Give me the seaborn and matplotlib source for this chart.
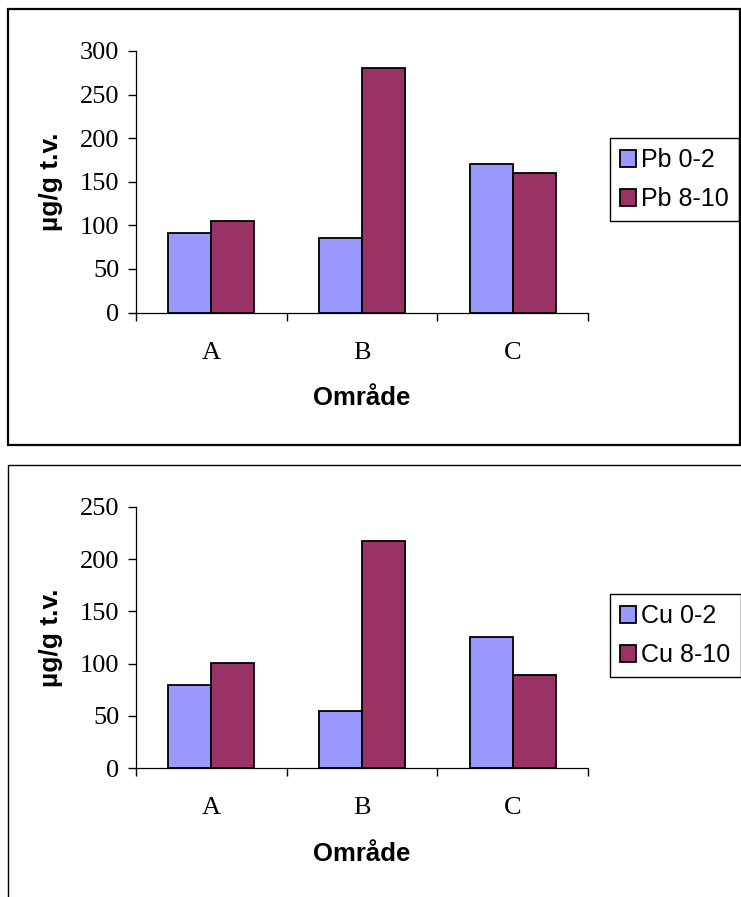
import pandas as pd
import matplotlib
matplotlib.use("Agg")
import matplotlib.pyplot as plt
from matplotlib.patches import Rectangle
import seaborn as sns

# data
omraden = ["A", "B", "C"]
pb_0_2 = [91, 85, 170]
pb_8_10 = [105, 280, 160]
cu_0_2 = [80, 55, 125]
cu_8_10 = [101, 217, 89]

farger = ["#9999FF", "#993366"]

sns.set_style("white")
plt.rcParams["font.family"] = ["Liberation Sans", "DejaVu Sans"]
plt.rcParams["text.color"] = "black"
plt.rcParams["axes.labelcolor"] = "black"
plt.rcParams["xtick.color"] = "black"
plt.rcParams["ytick.color"] = "black"

W, H = 741, 897
fig = plt.figure(figsize=(W / 100, H / 100), dpi=100)


def px(x0, y0, x1, y1):
    # pixel box (top-left origin) -> figure fraction rect
    return [x0 / W, 1 - y1 / H, (x1 - x0) / W, (y1 - y0) / H]


def rita(ax, serie1, serie2, namn, ymax, legend_y):
    df = pd.DataFrame({
        "Område": omraden * 2,
        "varde": serie1 + serie2,
        "serie": [namn[0]] * 3 + [namn[1]] * 3,
    })
    sns.barplot(data=df, x="Område", y="varde", hue="serie", palette=farger,
                saturation=1, edgecolor="black", linewidth=1.3, width=0.57, gap=0,
                ax=ax, legend=True)
    ax.set_xlim(-0.5, 2.5)
    ax.set_ylim(0, ymax)
    ax.set_yticks(range(0, ymax + 1, 50))
    ax.set_xticks([-0.5, 0.5, 1.5, 2.5], minor=True)
    ax.tick_params(axis="x", which="major", length=0, pad=21)
    ax.tick_params(axis="x", which="minor", length=6, width=1, direction="out", bottom=True)
    ax.tick_params(axis="y", length=6, width=1, direction="out", left=True, pad=6)
    for lab in ax.get_xticklabels() + ax.get_yticklabels():
        lab.set_fontfamily("Liberation Serif")
        lab.set_fontsize(19)
    sns.despine(ax=ax)
    ax.spines["left"].set_color("black")
    ax.spines["bottom"].set_color("black")
    ax.spines["left"].set_linewidth(0.9)
    ax.spines["bottom"].set_linewidth(0.9)
    ax.set_xlabel("Område", fontsize=18.5, fontweight="bold", labelpad=16)
    ax.set_ylabel("µg/g t.v.", fontsize=19, fontweight="bold", labelpad=12)
    handles, labels = ax.get_legend_handles_labels()
    ax.legend(handles, labels, loc="upper left",
              bbox_to_anchor=(610 / W, 1 - legend_y / H), bbox_transform=fig.transFigure,
              frameon=True, fancybox=False, edgecolor="black", framealpha=1,
              fontsize=18, handlelength=0.65, handleheight=0.65,
              handletextpad=0.2, borderpad=0.4, labelspacing=0.6,
              borderaxespad=0)
    ax.get_legend().get_frame().set_linewidth(1.0)


ax1 = fig.add_axes(px(136, 51, 588, 312.5))
rita(ax1, pb_0_2, pb_8_10, ["Pb 0-2", "Pb 8-10"], 300, 138)

ax2 = fig.add_axes(px(136, 506.7, 588, 768.3))
rita(ax2, cu_0_2, cu_8_10, ["Cu 0-2", "Cu 8-10"], 250, 594)

# chart area borders
fig.patches.append(Rectangle((8 / W, 1 - 445 / H), (740 - 8) / W, (445 - 9) / H,
                             transform=fig.transFigure, fill=False,
                             edgecolor="black", linewidth=1.6))
fig.patches.append(Rectangle((8 / W, -0.1), 1.0, (1 - 465 / H) + 0.1,
                             transform=fig.transFigure, fill=False,
                             edgecolor="black", linewidth=1.0))

fig.savefig("out.png", dpi=100)
